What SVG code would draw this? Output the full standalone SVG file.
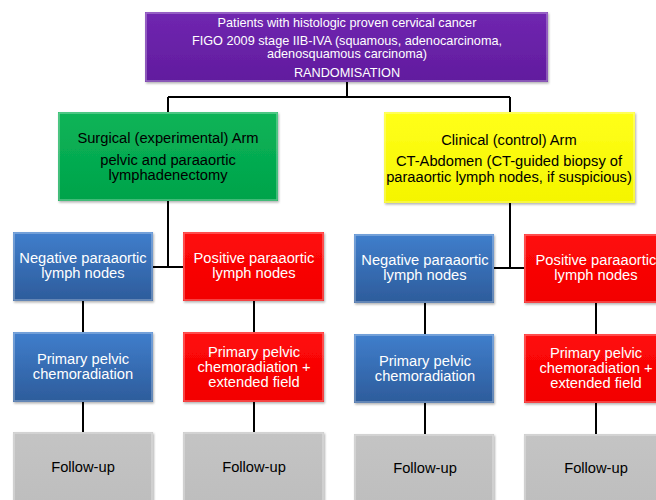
<svg xmlns="http://www.w3.org/2000/svg" width="656" height="500" viewBox="0 0 656 500">
<defs>
<linearGradient id="gPurple" x1="0" y1="0" x2="0" y2="1"><stop offset="0" stop-color="#7026B0"/><stop offset="1" stop-color="#611C9E"/></linearGradient>
<linearGradient id="gGreen" x1="0" y1="0" x2="0" y2="1"><stop offset="0" stop-color="#0CB458"/><stop offset="1" stop-color="#00A34A"/></linearGradient>
<linearGradient id="gYellow" x1="0" y1="0" x2="0" y2="1"><stop offset="0" stop-color="#FFFF1A"/><stop offset="1" stop-color="#F5F500"/></linearGradient>
<linearGradient id="gBlue" x1="0" y1="0" x2="0" y2="1"><stop offset="0" stop-color="#407ECC"/><stop offset="1" stop-color="#2D5C9B"/></linearGradient>
<linearGradient id="gRed" x1="0" y1="0" x2="0" y2="1"><stop offset="0" stop-color="#FF0A0A"/><stop offset="1" stop-color="#F20000"/></linearGradient>
<linearGradient id="gGrey" x1="0" y1="0" x2="0" y2="1"><stop offset="0" stop-color="#C4C4C4"/><stop offset="1" stop-color="#BDBDBD"/></linearGradient>
<filter id="sh" x="-5%" y="-5%" width="115%" height="120%"><feDropShadow dx="1" dy="1.5" stdDeviation="1" flood-color="#000" flood-opacity="0.3"/></filter>
</defs>
<style>
text{font-family:"Liberation Sans",Arial,sans-serif;text-anchor:middle}
.w{fill:#fff}
.k{fill:#000}
.t13{font-size:12.7px}
.t15{font-size:14.7px}
.box{filter:url(#sh)}
.hl{fill:none;stroke:#fff;stroke-opacity:0.35;stroke-width:1.5}
.conn{stroke:#000;stroke-width:2;fill:none}
</style>
<g id="connectors">
<path class="conn" d="M347 82V97M168 97H510M168 97V112M510 97V112"/>
<path class="conn" d="M168 201V267M153 267H183"/>
<path class="conn" d="M510 203V268M494 268H524"/>
<path class="conn" d="M83 301V332M254 301V332M425 303V334M596 303V334"/>
<path class="conn" d="M83 402V432M254 402V432M425 403V434M596 403V434"/>
</g>
<g id="top">
<rect class="box" x="145" y="12" width="403" height="70" fill="url(#gPurple)"/>
<rect class="hl" x="146" y="13" width="401" height="68"/>
<text class="w t13" x="347" y="27">Patients with histologic proven cervical cancer</text>
<text class="w t13" x="347" y="44.5">FIGO 2009 stage IIB-IVA (squamous, adenocarcinoma,</text>
<text class="w t13" x="347" y="58">adenosquamous carcinoma)</text>
<text class="w t13" x="347" y="77">RANDOMISATION</text>
</g>
<g id="surgical">
<rect class="box" x="58" y="112" width="220" height="89" fill="url(#gGreen)"/>
<rect class="hl" x="59" y="113" width="218" height="87"/>
<text class="k t15" x="168" y="143">Surgical (experimental) Arm</text>
<text class="k t15" x="168" y="165">pelvic and paraaortic</text>
<text class="k t15" x="168" y="180">lymphadenectomy</text>
</g>
<g id="clinical">
<rect class="box" x="384" y="112" width="251" height="91" fill="url(#gYellow)"/>
<rect class="hl" x="385" y="113" width="249" height="89"/>
<text class="k t15" x="509" y="145">Clinical (control) Arm</text>
<text class="k t15" x="509" y="166">CT-Abdomen (CT-guided biopsy of</text>
<text class="k t15" x="509" y="182">paraaortic lymph nodes, if suspicious)</text>
</g>
<g id="neg1">
<rect class="box" x="13" y="232" width="140" height="69" fill="url(#gBlue)"/>
<rect class="hl" x="14" y="233" width="138" height="67"/>
<text class="w t15" x="83" y="263">Negative paraaortic</text>
<text class="w t15" x="83" y="278">lymph nodes</text>
</g>
<g id="pos1">
<rect class="box" x="183" y="232" width="141" height="69" fill="url(#gRed)"/>
<rect class="hl" x="184" y="233" width="139" height="67"/>
<text class="w t15" x="254" y="263">Positive paraaortic</text>
<text class="w t15" x="254" y="278">lymph nodes</text>
</g>
<g id="neg2">
<rect class="box" x="354" y="234" width="140" height="69" fill="url(#gBlue)"/>
<rect class="hl" x="355" y="235" width="138" height="67"/>
<text class="w t15" x="425" y="265">Negative paraaortic</text>
<text class="w t15" x="425" y="280">lymph nodes</text>
</g>
<g id="pos2">
<rect class="box" x="524" y="234" width="141" height="69" fill="url(#gRed)"/>
<rect class="hl" x="525" y="235" width="139" height="67"/>
<text class="w t15" x="596" y="265">Positive paraaortic</text>
<text class="w t15" x="596" y="280">lymph nodes</text>
</g>
<g id="chemo1">
<rect class="box" x="13" y="332" width="140" height="70" fill="url(#gBlue)"/>
<rect class="hl" x="14" y="333" width="138" height="68"/>
<text class="w t15" x="83" y="364">Primary pelvic</text>
<text class="w t15" x="83" y="379">chemoradiation</text>
</g>
<g id="chemoext1">
<rect class="box" x="183" y="332" width="141" height="70" fill="url(#gRed)"/>
<rect class="hl" x="184" y="333" width="139" height="68"/>
<text class="w t15" x="254" y="357">Primary pelvic</text>
<text class="w t15" x="254" y="372">chemoradiation +</text>
<text class="w t15" x="254" y="387">extended field</text>
</g>
<g id="chemo2">
<rect class="box" x="354" y="334" width="140" height="69" fill="url(#gBlue)"/>
<rect class="hl" x="355" y="335" width="138" height="67"/>
<text class="w t15" x="425" y="366">Primary pelvic</text>
<text class="w t15" x="425" y="381">chemoradiation</text>
</g>
<g id="chemoext2">
<rect class="box" x="524" y="334" width="141" height="69" fill="url(#gRed)"/>
<rect class="hl" x="525" y="335" width="139" height="67"/>
<text class="w t15" x="596" y="358">Primary pelvic</text>
<text class="w t15" x="596" y="373">chemoradiation +</text>
<text class="w t15" x="596" y="388">extended field</text>
</g>
<g id="follow1">
<rect class="box" x="13" y="432" width="140" height="80" fill="url(#gGrey)"/>
<rect class="hl" x="14" y="433" width="138" height="78"/>
<text class="k t15" x="83" y="472">Follow-up</text>
</g>
<g id="follow2">
<rect class="box" x="183" y="432" width="141" height="80" fill="url(#gGrey)"/>
<rect class="hl" x="184" y="433" width="139" height="78"/>
<text class="k t15" x="254" y="472">Follow-up</text>
</g>
<g id="follow3">
<rect class="box" x="354" y="434" width="140" height="80" fill="url(#gGrey)"/>
<rect class="hl" x="355" y="435" width="138" height="78"/>
<text class="k t15" x="425" y="473">Follow-up</text>
</g>
<g id="follow4">
<rect class="box" x="524" y="434" width="141" height="80" fill="url(#gGrey)"/>
<rect class="hl" x="525" y="435" width="139" height="78"/>
<text class="k t15" x="596" y="473">Follow-up</text>
</g>
</svg>
